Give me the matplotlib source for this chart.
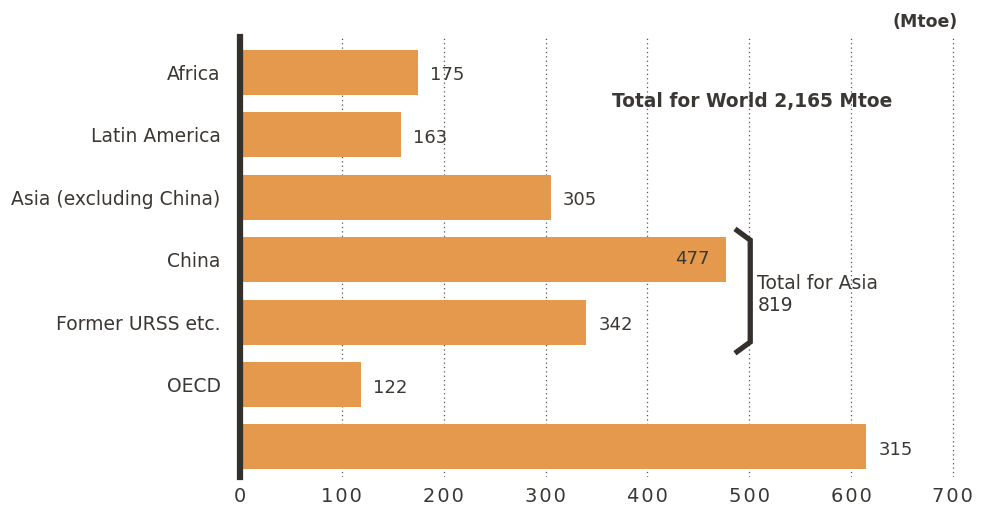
import matplotlib
matplotlib.use("Agg")
import matplotlib.pyplot as plt
from matplotlib.lines import Line2D

categories = ["Africa", "Latin America", "Asia (excluding China)", "China",
              "Former URSS etc.", "OECD", ""]
bar_values = [175, 158, 305, 477, 340, 119, 615]
value_labels = ["175", "163", "305", "477", "342", "122", "315"]
xticks = [0, 100, 200, 300, 400, 500, 600, 700]
world_total = "Total for World 2,165 Mtoe"
asia_total = "Total for Asia\n819"

BAR = "#E5994D"
TXT = "#3b3733"
DARK = "#34302b"

plt.rcParams['font.family'] = ['DejaVu Sans']
fig = plt.figure(figsize=(9.82, 5.11), dpi=100)
ax = fig.add_axes([240/982, 34/511, (958-240)/982, (477-37)/511])

for s in ["top", "right", "bottom"]:
    ax.spines[s].set_visible(False)
ax.spines["left"].set_linewidth(4.5)
ax.spines["left"].set_color(DARK)
ax.spines["left"].set_zorder(4)

n = len(categories)
ys = list(range(n))
ax.barh(ys, bar_values, height=0.72, color=BAR, zorder=2)
ax.set_ylim(n - 1 + 0.48, -0.56)
ax.set_xlim(0, 705)

for i, (v, lab) in enumerate(zip(bar_values, value_labels)):
    if categories[i] == "China":
        ax.text(v - 16, i, lab, ha="right", va="center", fontsize=13, color=TXT, zorder=3)
    else:
        ax.text(v + 12, i + 0.05, lab, ha="left", va="center", fontsize=13, color=TXT, zorder=3)

ax.set_yticks(ys)
ax.set_yticklabels(categories, fontsize=13.5, color=TXT)
ax.set_xticks(xticks)
ax.set_xticklabels(["\u200a".join(str(t)) for t in xticks], fontsize=14, color=TXT)
ax.tick_params(axis="both", length=0)
ax.tick_params(axis="y", pad=14)
ax.tick_params(axis="x", pad=7)

for t in xticks[1:]:
    ax.axvline(t, color="#555555", linestyle=(0, (1, 2.5)), linewidth=0.9, zorder=1)

# Asia bracket
ax.add_line(Line2D([486, 501, 501, 486], [2.51, 2.69, 4.32, 4.50],
                   color=DARK, linewidth=3.8, solid_joinstyle="miter",
                   solid_capstyle="butt", zorder=3, clip_on=False))
ax.text(508, 3.56, asia_total, ha="left", va="center", fontsize=13.5,
        color=TXT, linespacing=1.25, zorder=3)

ax.text(640, 0.47, world_total, ha="right", va="center", fontsize=13.4,
        fontweight="bold", color=TXT)
fig.text(958/982, 1 - 22/511, "(Mtoe)", ha="right", va="center", fontsize=12.5,
         fontweight="bold", color=TXT)

fig.savefig("out.png", dpi=100)
